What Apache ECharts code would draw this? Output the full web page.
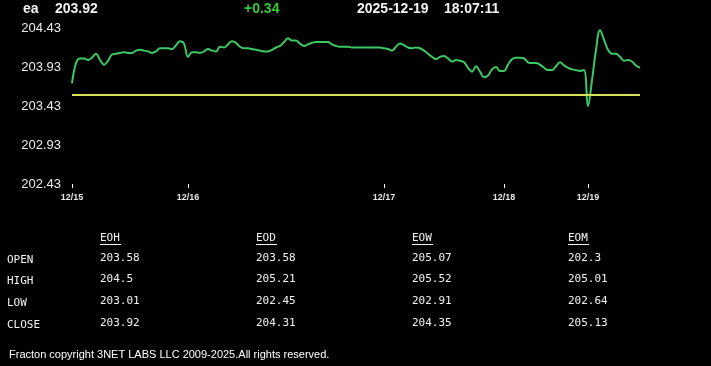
<!DOCTYPE html>
<html>
<head>
<meta charset="utf-8">
<script src="https://cdn.jsdelivr.net/npm/echarts@6/dist/echarts.min.js"></script>
<style>
html,body{margin:0;padding:0;background:#000;}
#chart{width:711px;height:366px;}
</style>
</head>
<body>
<div id="chart"></div>
<script>
// ---- header ----
const symbol = 'ea';
const lastPrice = '203.92';
const change = '+0.34';
const quoteDate = '2025-12-19';
const quoteTime = '18:07:11';

// ---- price series, one array per day ----
const dayLabels = ['12/15', '12/16', '12/17', '12/18', '12/19'];
const d1215 = [203.72,203.98,204.04,204.04,204.02,204.05,204.10,204.02,203.96,204.01,
  204.09,204.10,204.11,204.12,204.11,204.11,204.14,204.15,204.14,204.13,
  204.11,204.13,204.17,204.17,204.17,204.16,204.21,204.26,204.23];
const d1216 = [204.06,204.12,204.12,204.11,204.13,204.16,204.14,204.13,204.19,204.18,
  204.22,204.26,204.24,204.19,204.17,204.17,204.16,204.15,204.14,204.13,
  204.13,204.15,204.18,204.20,204.25,204.30,204.27,204.27,204.23,204.20,
  204.22,204.24,204.25,204.25,204.25,204.25,204.22,204.20,204.19,204.19,
  204.19,204.18,204.18,204.18,204.18,204.18,204.18,204.18,204.18];
const d1217 = [204.17,204.16,204.14,204.19,204.23,204.21,204.18,204.17,204.18,204.17,
  204.14,204.10,204.06,204.03,204.06,204.07,204.04,204.00,204.02,204.01,
  203.99,203.92,203.87,203.94,203.87,203.80,203.82,203.90,203.93,203.88];
const d1218 = [203.88,203.96,204.03,204.05,204.05,204.04,203.99,203.98,203.98,203.96,
  203.92,203.89,203.89,203.94,203.99,203.95,203.92,203.90,203.89,203.88,203.89];
const d1219 = [203.43,203.76,204.15,204.40,204.28,204.15,204.10,204.10,204.06,204.01,
  204.02,204.00,203.95,203.92];
const openLevel = 203.58;

// ---- y axis ----
const yMin = 202.43, yMax = 204.43, yStep = 0.5;

// ---- table ----
const tableCols = ['EOH', 'EOD', 'EOW', 'EOM'];
const rowNames = ['OPEN', 'HIGH', 'LOW', 'CLOSE'];
const eoh = ['203.58', '204.5', '203.01', '203.92'];
const eod = ['203.58', '205.21', '202.45', '204.31'];
const eow = ['205.07', '205.52', '202.91', '204.35'];
const eom = ['202.3', '205.01', '202.64', '205.13'];
const footer = 'Fracton copyright 3NET LABS LLC 2009-2025.All rights reserved.';

// ---- build ----
const days = [d1215, d1216, d1217, d1218, d1219];
const values = [];
const categories = [];
days.forEach((d, di) => {
  d.forEach((v, k) => { values.push(v); categories.push(dayLabels[di] + '-' + k); });
});

const white = '#f2f2f2';
const hdrFont = 'bold 14px "Liberation Sans", Arial, sans-serif';
const monoFont = '11px "DejaVu Sans Mono", "Liberation Mono", monospace';

function txt(x, y, text, font, fill) {
  return { type: 'text', x: x, y: y, silent: true,
    style: { text: text, font: font, fill: fill || white, textAlign: 'left', textVerticalAlign: 'middle', verticalAlign: 'middle' } };
}

const graphics = [
  txt(23, 9, symbol, hdrFont),
  txt(55, 9, lastPrice, hdrFont),
  txt(244, 9, change, hdrFont, '#36c936'),
  txt(357, 9, quoteDate, hdrFont),
  txt(444, 9, quoteTime, hdrFont)
];
const colX = [100, 256, 412, 568];
const rowY = [259, 280, 302, 324];
const colData = [eoh, eod, eow, eom];
tableCols.forEach((c, ci) => {
  graphics.push(txt(colX[ci], 238, c, monoFont));
  graphics.push({ type: 'line', silent: true,
    shape: { x1: colX[ci], y1: 244.5, x2: colX[ci] + 21, y2: 244.5 },
    style: { stroke: white, lineWidth: 1 } });
  colData[ci].forEach((v, ri) => graphics.push(txt(colX[ci], rowY[ri] - 1, v, monoFont)));
});
rowNames.forEach((r, ri) => graphics.push(txt(7, rowY[ri] + 1, r, monoFont)));
graphics.push(txt(9, 355, footer, '11px "Liberation Sans", Arial, sans-serif', '#ffffff'));

const chart = echarts.init(document.getElementById('chart'), null, { renderer: 'canvas' });
chart.setOption({
  backgroundColor: '#000',
  animation: false,
  grid: { left: 72, right: 71, top: 28, bottom: 182, containLabel: false },
  xAxis: {
    type: 'category',
    data: categories,
    boundaryGap: false,
    axisLine: { show: false },
    axisTick: { show: true, length: 4, lineStyle: { color: '#ffffff', width: 1 },
      interval: (i, v) => /-0$/.test(v) },
    axisLabel: { color: '#e6e6e6', fontSize: 9, fontWeight: 'bold', fontFamily: '"Liberation Sans", Arial, sans-serif',
      margin: 9, interval: (i, v) => /-0$/.test(v), formatter: v => v.split('-')[0] },
    splitLine: { show: false }
  },
  yAxis: {
    type: 'value',
    min: yMin, max: yMax, interval: yStep,
    axisLine: { show: false }, axisTick: { show: false }, splitLine: { show: false },
    axisLabel: { color: '#ececec', fontSize: 13, fontFamily: '"Liberation Sans", Arial, sans-serif',
      margin: 11, formatter: v => v.toFixed(2) }
  },
  series: [{
    type: 'line',
    data: values,
    smooth: 0.4,
    symbol: 'none',
    lineStyle: { color: '#3cc864', width: 2 },
    markLine: {
      silent: true, symbol: 'none', label: { show: false },
      lineStyle: { color: '#d6e25a', width: 2, type: 'solid' },
      data: [{ yAxis: openLevel }]
    },
    z: 3
  }],
  graphic: graphics
});
</script>
</body>
</html>
